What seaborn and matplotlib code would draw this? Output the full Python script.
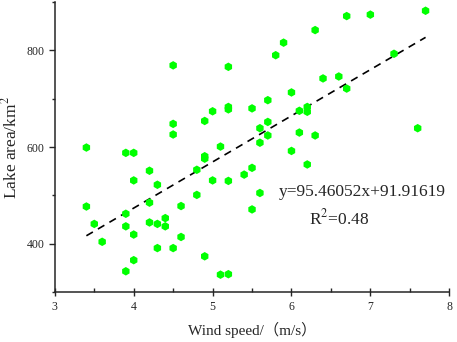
import numpy as np
import pandas as pd
import matplotlib
matplotlib.use("Agg")
import matplotlib.pyplot as plt
import seaborn as sns
from matplotlib.ticker import MultipleLocator

# wind speed (m/s) and lake area (km2)
wind_speed = [3.4, 3.4, 3.5, 3.6, 3.9, 3.9, 3.9, 3.9, 4.0, 4.0,
              4.0, 4.0, 4.2, 4.2, 4.2, 4.3, 4.3, 4.3, 4.4, 4.4,
              4.5, 4.5, 4.5, 4.5, 4.6, 4.6, 4.8, 4.8, 4.9, 4.9,
              4.9, 4.9, 5.0, 5.0, 5.1, 5.1, 5.2, 5.2, 5.2, 5.2,
              5.2, 5.4, 5.5, 5.5, 5.5, 5.6, 5.6, 5.6, 5.7, 5.7,
              5.7, 5.8, 5.9, 6.0, 6.0, 6.1, 6.1, 6.2, 6.2, 6.2,
              6.3, 6.3, 6.4, 6.6, 6.7, 6.7, 7.0, 7.3, 7.6, 7.7]
lake_area = [599, 477, 441, 404, 588, 462, 436, 343, 588, 531,
             419, 366, 551, 485, 444, 522, 441, 391, 453, 436,
             769, 648, 626, 391, 478, 414, 553, 501, 654, 581,
             576, 374, 674, 531, 601, 336, 766, 683, 678, 530,
             337, 543, 680, 557, 471, 639, 609, 505, 697, 652,
             624, 790, 816, 713, 592, 675, 630, 683, 673, 564,
             842, 624, 742, 746, 871, 721, 874, 793, 639, 882]

slope = 95.46052
intercept = 91.91619
r2 = 0.48

df = pd.DataFrame({"wind": wind_speed, "area": lake_area})

sns.set_style("ticks")
plt.rcParams["font.family"] = ["Liberation Serif", "Noto Sans CJK SC", "DejaVu Sans"]
plt.rcParams["mathtext.fontset"] = "stix"

fig = plt.figure(figsize=(4.57, 3.42), dpi=100)
ax = fig.add_axes([0.120, 0.146, 0.863, 0.848])

sns.scatterplot(data=df, x="wind", y="area", marker="h", s=38,
                color="#00ff00", edgecolor="none", ax=ax, zorder=3)

# fitted line over the data range
fit_x = np.array([min(wind_speed), max(wind_speed)])
fit_y = slope * fit_x + intercept
sns.lineplot(x=fit_x, y=fit_y, color="black", lw=1.2, ax=ax, zorder=2)
ax.lines[-1].set_dashes([4.5, 3.5])

ax.set_xlim(3, 8)
ax.set_ylim(300, 900)
ax.xaxis.set_major_locator(MultipleLocator(1))
ax.xaxis.set_minor_locator(MultipleLocator(0.5))
ax.yaxis.set_major_locator(MultipleLocator(200))
ax.yaxis.set_minor_locator(MultipleLocator(100))
ax.tick_params(axis="x", which="major", direction="inout", length=6, width=1, labelsize=8.5)
ax.tick_params(axis="x", which="minor", direction="in", length=3, width=1)
ax.tick_params(axis="y", which="major", direction="out", length=4, width=1, labelsize=8.5)
ax.tick_params(axis="y", which="minor", direction="out", length=2.5, width=1)

for side in ["top", "right"]:
    ax.spines[side].set_visible(False)
for side in ["left", "bottom"]:
    ax.spines[side].set_linewidth(1.1)

ax.set_xlabel("Wind speed/（m/s）", fontsize=11, labelpad=6)
ax.set_ylabel("Lake area/km$^2$", fontsize=12.5, labelpad=4)

ax.text(6.9, 506, "y={:.5f}x+{:.5f}".format(slope, intercept),
        fontsize=12.5, ha="center", va="center")
ax.text(6.6, 452, "R$^2$={:.2f}".format(r2),
        fontsize=12.5, ha="center", va="center")

fig.savefig("out.png", dpi=100)
